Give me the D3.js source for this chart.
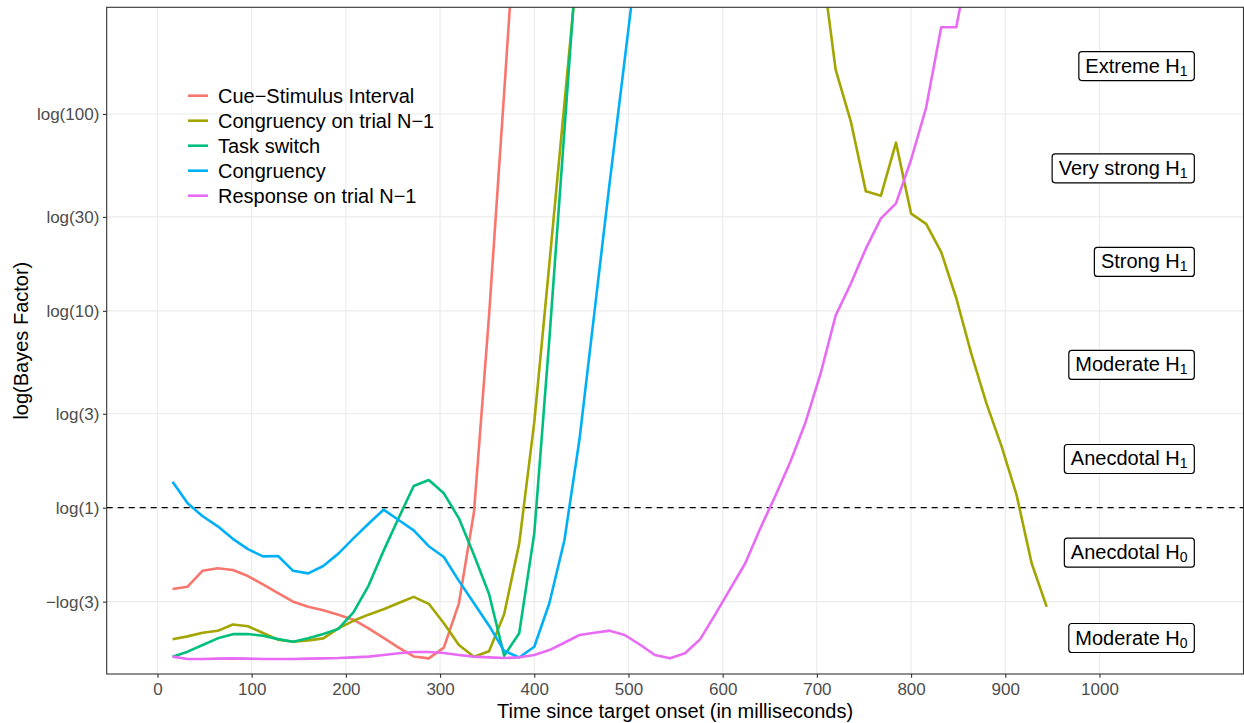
<!DOCTYPE html>
<html><head><meta charset="utf-8">
<script src="https://cdn.jsdelivr.net/npm/d3@7"></script>
<style>
body{margin:0;background:#fff}
svg{display:block}
text{font-family:"Liberation Sans", Arial, Helvetica, sans-serif}
</style>
</head><body>
<svg id="chart" width="1244" height="723"></svg>
<script>
// ---------- data ----------
const times = [16,32,48,64,80,96,112,128,144,160,176,192,208,224,240,256,272,288,304,320,
  336,352,368,384,400,416,432,448,464,480,496,512,528,544,560,576,592,608,624,640,
  656,672,688,704,720,736,752,768,784,800,816,832,848,864,880,896,912,928,944];

const seriesNames = ["Cue\u2212Stimulus Interval","Congruency on trial N\u22121","Task switch","Congruency","Response on trial N\u22121"];
const seriesColors = ["#F8766D","#A3A500","#00BF7D","#00B0F6","#E76BF3"];

// log Bayes factor (null = not drawn / far above the panel)
const cueStimulus = [-0.95,-0.924,-0.737,-0.709,-0.729,-0.799,-0.898,-1.0,-1.099,-1.158,
  -1.2,-1.251,-1.31,-1.411,-1.522,-1.636,-1.74,-1.762,-1.636,-1.118,
  -0.05,2.25,4.85,7.5,null,null,null,null,null,null,
  null,null,null,null,null,null,null,null,null,null,
  null,null,null,null,null,null,null,null,null,null,
  null,null,null,null,null,null,null,null,null];
const congruencyPrev = [-1.539,-1.505,-1.462,-1.44,-1.366,-1.386,-1.465,-1.543,-1.567,-1.552,
  -1.528,-1.411,-1.323,-1.251,-1.187,-1.115,-1.043,-1.124,-1.352,-1.606,
  -1.743,-1.678,-1.245,-0.42,1.0,2.85,4.73,6.6,null,null,
  null,null,null,null,null,null,null,null,null,null,
  null,null,null,6.47,5.12,4.52,3.70,3.65,4.27,3.44,
  3.32,2.99,2.45,1.80,1.22,0.72,0.15,-0.65,-1.16];
const taskSwitch = [-1.743,-1.684,-1.606,-1.528,-1.479,-1.477,-1.498,-1.537,-1.567,-1.528,
  -1.477,-1.417,-1.225,-0.913,-0.505,-0.12,0.254,0.324,0.168,-0.124,
  -0.553,-1.01,-1.732,-1.469,-0.3,1.97,4.41,6.86,null,null,
  null,null,null,null,null,null,null,null,null,null,
  null,null,null,null,null,null,null,null,null,null,
  null,null,null,null,null,null,null,null,null];
const congruency = [0.304,0.051,-0.10,-0.218,-0.364,-0.485,-0.569,-0.565,-0.738,-0.768,
  -0.682,-0.537,-0.358,-0.187,-0.023,-0.144,-0.265,-0.45,-0.577,-0.856,
  -1.118,-1.38,-1.674,-1.752,-1.626,-1.118,-0.38,0.8,2.3,3.8,
  5.24,6.69,null,null,null,null,null,null,null,null,
  null,null,null,null,null,null,null,null,null,null,
  null,null,null,null,null,null,null,null,null];
const responsePrev = [-1.742,-1.769,-1.769,-1.765,-1.762,-1.765,-1.769,-1.769,-1.769,-1.765,
  -1.762,-1.758,-1.75,-1.742,-1.723,-1.703,-1.688,-1.688,-1.699,-1.723,
  -1.742,-1.75,-1.758,-1.75,-1.723,-1.665,-1.579,-1.489,-1.462,-1.438,
  -1.489,-1.6,-1.723,-1.762,-1.703,-1.54,-1.25,-0.95,-0.65,-0.24,
  0.14,0.54,1.0,1.57,2.25,2.62,3.03,3.385,3.56,4.07,
  4.68,5.62,5.62,6.55,null,null,null,null,null];

const seriesValues = [cueStimulus, congruencyPrev, taskSwitch, congruency, responsePrev];

const xTickValues = [0,100,200,300,400,500,600,700,800,900,1000];
const xTickLabels = ["0","100","200","300","400","500","600","700","800","900","1000"];
const yTickValues = [Math.log(100),Math.log(30),Math.log(10),Math.log(3),0,-Math.log(3)];
const yTickLabels = ["log(100)","log(30)","log(10)","log(3)","log(1)","\u2212log(3)"];

const evidenceNames = ["Extreme H","Very strong H","Strong H","Moderate H","Anecdotal H","Anecdotal H","Moderate H"];
const evidenceSubs  = ["1","1","1","1","1","0","0"];
const evidenceY     = [5.166,3.97,2.875,1.67,0.57,-0.526,-1.524];
const evidenceX = 1101;

// ---------- layout ----------
const svg = d3.select("#chart");
const L = 106.7, R = 1243.5, T = 7.3, B = 674;
const x = d3.scaleLinear().domain([-53.9, 1152.9]).range([L, R]);
const y = d3.scaleLinear().domain([-1.945, 5.853]).range([B, T]);

svg.append("rect").attr("width",1244).attr("height",723).attr("fill","#fff");

svg.append("clipPath").attr("id","clip").append("rect")
  .attr("x",L).attr("y",T).attr("width",R-L).attr("height",B-T);

// grid
const grid = svg.append("g");
grid.selectAll(".gx").data(xTickValues).join("line")
  .attr("x1",d=>x(d)).attr("x2",d=>x(d)).attr("y1",T).attr("y2",B)
  .attr("stroke","#EBEBEB").attr("stroke-width",1.1);
grid.selectAll(".gy").data(yTickValues).join("line")
  .attr("x1",L).attr("x2",R).attr("y1",d=>y(d)).attr("y2",d=>y(d))
  .attr("stroke","#EBEBEB").attr("stroke-width",1.1);

// reference dashed line at log(1)
svg.append("line").attr("x1",L).attr("x2",R).attr("y1",y(0)).attr("y2",y(0))
  .attr("stroke","#000").attr("stroke-width",1.3).attr("stroke-dasharray","6,5");

// series
const lineGen = d3.line()
  .defined(d=>d.v!==null)
  .x(d=>x(d.t)).y(d=>y(d.v));
const gLines = svg.append("g").attr("clip-path","url(#clip)");
seriesValues.forEach((vals,i)=>{
  const pts = times.map((t,j)=>({t:t, v:vals[j]}));
  gLines.append("path").datum(pts)
    .attr("d",lineGen).attr("fill","none")
    .attr("stroke",seriesColors[i]).attr("stroke-width",2.6)
    .attr("stroke-linejoin","round").attr("stroke-linecap","butt");
});

// evidence labels
const gLab = svg.append("g");
evidenceNames.forEach((name,i)=>{
  const g = gLab.append("g");
  const cy = y(evidenceY[i]);
  const t = g.append("text").attr("x",0).attr("y",cy+6.5)
    .attr("font-size",20).attr("fill","#000").attr("text-anchor","end");
  t.append("tspan").text(name);
  t.append("tspan").attr("font-size",14).attr("dy",3).text(evidenceSubs[i]);
  const right = x(evidenceX);
  t.attr("x", right-7);
  const bb = t.node().getBBox();
  g.insert("rect","text")
    .attr("x",bb.x-6.5).attr("y",cy-14.5).attr("width",bb.width+13).attr("height",29)
    .attr("rx",3).attr("fill","#fff").attr("stroke","#000").attr("stroke-width",1.2);
});

// panel border
svg.append("rect").attr("x",L).attr("y",T).attr("width",R-L).attr("height",B-T)
  .attr("fill","none").attr("stroke","#333").attr("stroke-width",1.1);

// axes
const xAxis = svg.append("g").attr("transform",`translate(0,${B})`)
  .call(d3.axisBottom(x).tickValues(xTickValues).tickFormat((d,i)=>xTickLabels[i]).tickSize(3.7).tickPadding(5).tickSizeOuter(0));
const yAxis = svg.append("g").attr("transform",`translate(${L},0)`)
  .call(d3.axisLeft(y).tickValues(yTickValues).tickFormat((d,i)=>yTickLabels[i]).tickSize(3.7).tickPadding(3.7).tickSizeOuter(0));
[xAxis,yAxis].forEach(a=>{
  a.select(".domain").remove();
  a.selectAll(".tick line").attr("stroke","#333").attr("stroke-width",1.1);
  a.selectAll(".tick text").attr("fill","#4D4D4D").attr("font-size",17)
    .attr("font-family",'"Liberation Sans", Arial, sans-serif');
});

// axis titles
svg.append("text").attr("x",(L+R)/2).attr("y",717.5).attr("text-anchor","middle")
  .attr("font-size",20).attr("fill","#000").text("Time since target onset (in milliseconds)");
svg.append("text").attr("transform",`translate(28,${(T+B)/2}) rotate(-90)`).attr("text-anchor","middle")
  .attr("font-size",20).attr("fill","#000").text("log(Bayes Factor)");

// legend
const legend = svg.append("g");
seriesNames.forEach((n,i)=>{
  const cy = 95.7 + 25*i;
  legend.append("line").attr("x1",188).attr("x2",208).attr("y1",cy).attr("y2",cy)
    .attr("stroke",seriesColors[i]).attr("stroke-width",2.6);
  legend.append("text").attr("x",218).attr("y",cy+7).attr("font-size",20).attr("fill","#000").text(n);
});
</script>
</body></html>
